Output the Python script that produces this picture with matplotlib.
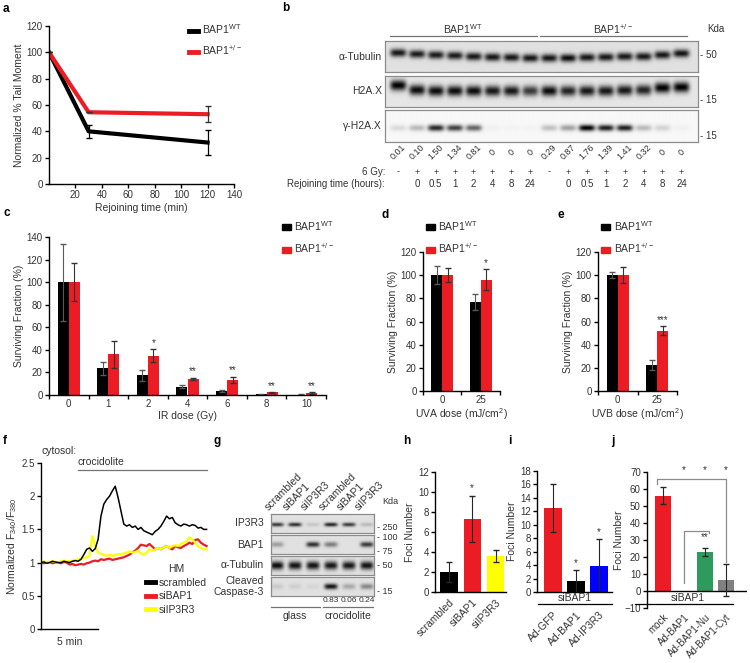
import numpy as np
import matplotlib
matplotlib.use('Agg')
import matplotlib.pyplot as plt
from matplotlib.lines import Line2D
from matplotlib.patches import Patch
from matplotlib.ticker import FormatStrFormatter

plt.rcParams['font.family'] = ['Liberation Sans', 'DejaVu Sans']
plt.rcParams['font.size'] = 7
plt.rcParams['mathtext.fontset'] = 'custom'
plt.rcParams['mathtext.rm'] = 'Liberation Sans'
plt.rcParams['mathtext.it'] = 'Liberation Sans:italic'
plt.rcParams['mathtext.default'] = 'regular'

RED = '#ec1c24'
YELLOW = '#ffff00'
BLUE = '#0000ff'
GREEN = '#2f9a5e'
GREY = '#808080'
TXT = '0.2'

WT_LABEL = 'BAP1$^{WT}$'
HET_LABEL = 'BAP1$^{+/-}$'

# ---- a: comet assay
rejoin_min = [0, 30, 120]
tail_wt = [100, 40, 31.5]
tail_wt_err = [0, 5, 9.5]
tail_het = [100, 54.5, 53]
tail_het_err = [0, 0, 6]

# ---- b: western blot (band darkness 0-1)
b_rows = ['α-Tubulin', 'H2A.X', 'γ-H2A.X']
b_kda = ['50', '15', '15']
tub_b = [0.9, 0.88, 0.88, 0.88, 0.9, 0.9, 0.9, 0.9, 0.9, 0.95, 0.9, 0.9, 0.9, 0.9, 0.9, 0.92]
tub_b_y = [0.38, 0.42, 0.45, 0.47, 0.5, 0.52, 0.53, 0.55, 0.55, 0.55, 0.53, 0.52, 0.5, 0.5, 0.45, 0.4]
h2ax_b = [1.0, 0.95, 0.95, 0.95, 0.95, 0.9, 0.9, 0.75, 0.95, 0.85, 0.9, 0.9, 0.9, 0.85, 1.0, 1.0]
h2ax_b_y = [0.3, 0.45, 0.48, 0.48, 0.48, 0.48, 0.48, 0.48, 0.48, 0.48, 0.48, 0.48, 0.46, 0.45, 0.38, 0.36]
gh2ax_b = [0.12, 0.25, 0.85, 0.75, 0.6, 0.03, 0.02, 0.02, 0.22, 0.35, 1.0, 0.88, 0.88, 0.25, 0.15, 0.03]
gh2ax_quant = ['0.01', '0.10', '1.50', '1.34', '0.81', '0', '0', '0',
               '0.29', '0.87', '1.76', '1.39', '1.41', '0.32', '0', '0']
gy_row = ['-', '+', '+', '+', '+', '+', '+', '+'] * 2
rejoin_hours = ['', '0', '0.5', '1', '2', '4', '8', '24'] * 2

# ---- c: IR survival
ir_dose = ['0', '1', '2', '4', '6', '8', '10']
ir_wt = [100, 23.5, 17.4, 7.4, 3.5, 0.6, 0.3]
ir_wt_err = [34, 5.4, 4.6, 1.5, 0.8, 0.2, 0.2]
ir_het = [100, 36, 35, 14.2, 13.6, 2.3, 1.8]
ir_het_err = [17, 12, 6, 1.2, 2.7, 0.5, 0.8]
ir_stars = ['', '', '*', '**', '**', '**', '**']

# ---- d: UVA survival
uva_dose = ['0', '25']
uva_wt = [100, 77]
uva_wt_err = [8, 7]
uva_het = [100, 96]
uva_het_err = [6, 9]
uva_stars = ['', '*']

# ---- e: UVB survival
uvb_dose = ['0', '25']
uvb_wt = [100, 22.5]
uvb_wt_err = [2.5, 4]
uvb_het = [100, 52]
uvb_het_err = [7, 4]
uvb_stars = ['', '***']

# ---- f: cytosolic Ca2+ traces, one sample every 0.25 min
trace_step = 0.25
ca_scrambled = [1.0, 1.01, 0.99, 1.0, 1.02, 1.01, 1.0, 1.0, 1.02, 1.01, 1.0, 1.02, 1.03, 1.02, 1.05,
                1.12, 1.2, 1.22, 1.17, 1.21, 1.35, 1.7, 1.88, 1.95, 2.0, 2.08, 2.15, 1.98, 1.78, 1.58,
                1.55, 1.57, 1.53, 1.55, 1.5, 1.53, 1.48, 1.46, 1.44, 1.42, 1.47, 1.5, 1.55, 1.62, 1.7,
                1.66, 1.68, 1.6, 1.57, 1.55, 1.58, 1.57, 1.55, 1.57, 1.56, 1.52, 1.53, 1.5, 1.5]
ca_sibap1 = [1.0, 0.99, 1.0, 1.01, 0.99, 1.0, 1.0, 0.99, 1.01, 1.0,
             0.97, 0.98, 0.96, 0.97, 0.98, 0.97, 0.99, 1.0,
             1.02, 1.03, 1.02, 1.05, 1.04, 1.05, 1.06, 1.04, 1.05, 1.06,
             1.07, 1.08, 1.1, 1.12, 1.15, 1.18, 1.22, 1.27,
             1.26, 1.25, 1.28, 1.24, 1.2, 1.22, 1.2, 1.23, 1.25, 1.22, 1.2, 1.25, 1.23, 1.22,
             1.25, 1.27, 1.3, 1.28, 1.34, 1.35, 1.3, 1.27, 1.25]
ca_siip3r3 = [1.0, 1.02, 1.0, 1.01, 1.02, 1.01, 1.0, 1.02, 1.03, 1.02, 1.02, 1.03, 1.04, 1.05, 1.05,
              1.07, 1.08, 1.1, 1.4, 1.25, 1.15,
              1.13, 1.12, 1.1, 1.12, 1.1, 1.11, 1.13, 1.12,
              1.14, 1.15, 1.17, 1.15, 1.16, 1.18, 1.14, 1.12,
              1.15, 1.2, 1.18, 1.2, 1.22, 1.2, 1.23, 1.25, 1.22, 1.25, 1.26, 1.25, 1.28, 1.3,
              1.32, 1.38, 1.35, 1.3, 1.25, 1.22, 1.2, 1.2]
crocidolite_start = 3.2

# ---- g: western blot
g_lanes = ['scrambled', 'siBAP1', 'siIP3R3', 'scrambled', 'siBAP1', 'siIP3R3']
g_rows = ['IP3R3', 'BAP1', 'α-Tubulin', 'Cleaved\nCaspase-3']
ip3r3_g = [0.75, 0.8, 0.12, 0.85, 0.75, 0.18]
bap1_g = [0.3, 0.0, 0.8, 0.45, 0.0, 0.75]
tub_g = [0.95, 0.92, 0.92, 0.9, 0.9, 0.92]
casp_g = [0.1, 0.08, 0.05, 0.92, 0.25, 0.4]
casp_quant = ['', '', '', '0.83', '0.06', '0.24']

# ---- h, i, j: foci counts
h_cats = ['scrambled', 'siBAP1', 'siIP3R3']
h_vals = [2.0, 7.3, 3.6]
h_err = [1.0, 2.3, 0.6]
h_stars = ['', '*', '']

i_cats = ['Ad-GFP', 'Ad-BAP1', 'Ad-IP3R3']
i_vals = [12.5, 1.6, 3.9]
i_err = [3.6, 1.6, 4.0]
i_stars = ['', '*', '*']

j_cats = ['mock', 'Ad-BAP1', 'Ad-BAP1-Nu', 'Ad-BAP1-Cyt']
j_vals = [56, 0, 23, 6.5]
j_err = [5, 0, 2.5, 9.3]

W, H = 750, 663
fig = plt.figure(figsize=(W / 100, H / 100), dpi=100)


def add_ax(x0, y0, x1, y1):
    return fig.add_axes([x0 / W, 1 - y1 / H, (x1 - x0) / W, (y1 - y0) / H])


def ftext(x, y, s, **kw):
    kw.setdefault('color', TXT)
    fig.text(x / W, 1 - y / H, s, **kw)


def fline(x0, x1, y0, y1=None, **kw):
    y1 = y0 if y1 is None else y1
    kw.setdefault('color', '0.45')
    kw.setdefault('lw', 0.9)
    fig.add_artist(Line2D([x0 / W, x1 / W], [1 - y0 / H, 1 - y1 / H], **kw))


def panel(x, y, s):
    fig.text(x / W, 1 - y / H, s, fontsize=8.5, fontweight='bold', va='center', ha='left')


def style(ax):
    for s in ['top', 'right']:
        ax.spines[s].set_visible(False)
    for s in ['left', 'bottom']:
        ax.spines[s].set_linewidth(1.0)
    ax.tick_params(direction='out', length=3, width=1, labelsize=7, labelcolor=TXT, pad=1.5)


def fig_legend(ax, handles, labels, x, y, spacing):
    ax.legend(handles, labels, loc='upper left', bbox_to_anchor=(x / W, 1 - y / H),
              bbox_transform=fig.transFigure, frameon=False, handlelength=0.9,
              handleheight=0.45, handletextpad=0.3, labelspacing=spacing,
              borderaxespad=0, borderpad=0, fontsize=7.5, labelcolor=TXT)


def blot(ax, levels, ycen, sx, sy, xlim, bg):
    xs = np.linspace(xlim[0], xlim[1], 600)
    ys = np.linspace(0, 1, 160)
    X, Y = np.meshgrid(xs, ys)
    dark = np.zeros_like(X)
    ycen = np.broadcast_to(ycen, (len(levels),))
    for i, (lv, yc) in enumerate(zip(levels, ycen)):
        dark += lv * np.exp(-np.abs((X - i) / sx) ** 4 - ((Y - yc) / sy) ** 2)
    ax.imshow(bg * (1 - np.clip(dark, 0, 1)), cmap='gray', vmin=0, vmax=1,
              extent=(xlim[0], xlim[1], 1, 0), aspect='auto', interpolation='bilinear')
    ax.set_xlim(*xlim)
    ax.set_ylim(1, 0)
    ax.set_xticks([])
    ax.set_yticks([])
    for s in ax.spines.values():
        s.set_color('0.55')
        s.set_linewidth(0.9)


def grouped_bars(ax, wt, wt_err, het, het_err, stars, width=0.28):
    x = np.arange(len(wt))
    ax.bar(x - width / 2, wt, width, color='black')
    ax.bar(x + width / 2, het, width, color=RED)
    ax.errorbar(x - width / 2, wt, yerr=wt_err, fmt='none', ecolor='0.35', elinewidth=0.8, capsize=2)
    ax.errorbar(x + width / 2, het, yerr=het_err, fmt='none', ecolor='0.2', elinewidth=0.8, capsize=2)
    for xi, v, e, s in zip(x, het, het_err, stars):
        if s:
            ax.text(xi + width / 2, v + e + 1, s, ha='center', va='bottom', fontsize=7, color=TXT)
    ax.set_xlim(-0.5, len(wt) - 0.5)
    ax.set_xticks(x)
    ax.set_xticks(np.arange(len(wt) + 1) - 0.5, minor=True)
    ax.tick_params(axis='x', which='major', length=0, pad=3)
    ax.tick_params(axis='x', which='minor', length=3, width=1, direction='out')


bar_handles = [Patch(color='black'), Patch(color=RED)]

# ---------------- a
panel(3, 9, 'a')
ax = add_ax(49, 26, 234, 184)
style(ax)
ax.plot(rejoin_min, tail_wt, color='black', lw=3)
ax.plot(rejoin_min, tail_het, color=RED, lw=3)
ax.errorbar(rejoin_min, tail_wt, yerr=tail_wt_err, fmt='none', ecolor='black', elinewidth=0.9, capsize=2)
ax.errorbar(rejoin_min, tail_het, yerr=tail_het_err, fmt='none', ecolor='0.2', elinewidth=0.9, capsize=2)
ax.set_xlim(0, 140)
ax.set_ylim(0, 120)
ax.set_xticks(range(20, 141, 20))
ax.set_yticks(range(0, 121, 20))
ax.set_xlabel('Rejoining time (min)', fontsize=7.5, color=TXT, labelpad=2)
ax.set_ylabel('Normalized % Tail Moment', fontsize=7.5, color=TXT, labelpad=2)
fig_legend(ax, [Line2D([], [], color='black', lw=3.5), Line2D([], [], color=RED, lw=3.5)],
           [WT_LABEL, HET_LABEL], 189, 22, 0.75)

# ---------------- b
panel(282, 8, 'b')
b_xlim = (-0.69, 15.87)
b_lane_x = 398
b_lane_dx = 18.9
b_boxes = [(41, 72), (76, 107), (110, 142)]
b_data = [(tub_b, tub_b_y, 0.13, 0.88), (h2ax_b, h2ax_b_y, 0.17, 0.9), (gh2ax_b, 0.56, 0.1, 0.97)]
for (y0, y1), (lv, yc, sy, bg), name in zip(b_boxes, b_data, b_rows):
    bax = add_ax(385, y0, 698, y1)
    blot(bax, lv, yc, 0.43, sy, b_xlim, bg)
    ftext(382, (y0 + y1) / 2, name, ha='right', va='center', fontsize=7.5)
for kda, yk in zip(b_kda, [55, 100, 136]):
    ftext(700, yk, '- ' + kda, ha='left', va='center')
ftext(707, 29, 'Kda', ha='left', va='center')
ftext(463, 29, WT_LABEL, ha='center', va='center', fontsize=7.5)
ftext(613, 29, HET_LABEL, ha='center', va='center', fontsize=7.5)
fline(390, 537, 36)
fline(540, 687, 36)
for i, (q, g6, rh) in enumerate(zip(gh2ax_quant, gy_row, rejoin_hours)):
    xl = b_lane_x + i * b_lane_dx
    ftext(xl, 152, q, ha='center', va='center', rotation=45, fontsize=6.5)
    ftext(xl, 172, g6, ha='center', va='center', fontsize=6.5)
    ftext(xl, 184, rh, ha='center', va='center', fontsize=7)
ftext(385, 172, '6 Gy:', ha='right', va='center', fontsize=7)
ftext(385, 184, 'Rejoining time (hours):', ha='right', va='center', fontsize=7)

# ---------------- c
panel(3, 213, 'c')
ax = add_ax(49, 237, 326, 395)
style(ax)
grouped_bars(ax, ir_wt, ir_wt_err, ir_het, ir_het_err, ir_stars)
ax.set_xticklabels(ir_dose)
ax.set_ylim(0, 140)
ax.set_yticks(range(0, 141, 20))
ax.set_xlabel('IR dose (Gy)', fontsize=7.5, color=TXT, labelpad=1)
ax.set_ylabel('Surviving Fraction (%)', fontsize=7.5, color=TXT, labelpad=2)
fig_legend(ax, bar_handles, [WT_LABEL, HET_LABEL], 282, 219, 0.85)

# ---------------- d
panel(381, 215, 'd')
ax = add_ax(423, 252, 500, 391)
style(ax)
grouped_bars(ax, uva_wt, uva_wt_err, uva_het, uva_het_err, uva_stars)
ax.set_xticklabels(uva_dose)
ax.set_ylim(0, 120)
ax.set_yticks(range(0, 121, 20))
ax.set_xlabel('UVA dose (mJ/cm$^{2}$)', fontsize=7.5, color=TXT, labelpad=1)
ax.set_ylabel('Surviving Fraction (%)', fontsize=7.5, color=TXT, labelpad=2)
fig_legend(ax, bar_handles, [WT_LABEL, HET_LABEL], 426, 219, 0.85)

# ---------------- e
panel(557, 215, 'e')
ax = add_ax(598, 252, 677, 391)
style(ax)
grouped_bars(ax, uvb_wt, uvb_wt_err, uvb_het, uvb_het_err, uvb_stars)
ax.set_xticklabels(uvb_dose)
ax.set_ylim(0, 120)
ax.set_yticks(range(0, 121, 20))
ax.set_xlabel('UVB dose (mJ/cm$^{2}$)', fontsize=7.5, color=TXT, labelpad=1)
ax.set_ylabel('Surviving Fraction (%)', fontsize=7.5, color=TXT, labelpad=2)
fig_legend(ax, bar_handles, [WT_LABEL, HET_LABEL], 601, 219, 0.85)

# ---------------- f
panel(3, 441, 'f')
ftext(41, 451, 'cytosol:', ha='left', va='center', fontsize=7.5)
ax = add_ax(41, 463, 210, 629)
style(ax)
t = np.arange(len(ca_scrambled)) * trace_step
ax.plot(t, ca_sibap1, color=RED, lw=1.6)
ax.plot(t, ca_siip3r3, color=YELLOW, lw=1.6)
ax.plot(t, ca_scrambled, color='black', lw=1.1)
ax.set_xlim(0, 14.8)
ax.set_ylim(0, 2.5)
ax.set_yticks([0, 0.5, 1, 1.5, 2, 2.5])
ax.yaxis.set_major_formatter(FormatStrFormatter('%g'))
ax.set_xticks([])
ax.spines['bottom'].set_bounds(0, 5)
ax.text(2.5, -0.12, '5 min', ha='center', va='top', fontsize=7.5, color=TXT)
ax.plot([crocidolite_start, t[-1]], [2.39, 2.39], color='0.45', lw=0.9)
ax.text(crocidolite_start, 2.44, 'crocidolite', ha='left', va='bottom', fontsize=7.5, color=TXT)
ax.set_ylabel('Normalized F$_{340}$/F$_{380}$', fontsize=7.5, color=TXT, labelpad=2)
leg = ax.legend([Line2D([], [], color=c, lw=3.5) for c in ['black', RED, YELLOW]],
                ['scrambled', 'siBAP1', 'siIP3R3'], title='HM', loc='upper left',
                bbox_to_anchor=(146 / W, 1 - 564 / H), bbox_transform=fig.transFigure,
                frameon=False, handlelength=0.9, handletextpad=0.3, labelspacing=0.35,
                borderaxespad=0, borderpad=0, fontsize=7.5, labelcolor=TXT, title_fontsize=7.5)
leg.get_title().set_color(TXT)

# ---------------- g
panel(214, 441, 'g')
g_xlim = (-0.33, 5.39)
g_lane_x = 277
g_lane_dx = 18
g_boxes = [(514, 533), (535, 554), (556, 575), (577, 596)]
g_data = [(ip3r3_g, 0.58, 0.1), (bap1_g, 0.5, 0.14), (tub_g, 0.5, 0.22), (casp_g, 0.5, 0.15)]
for (y0, y1), (lv, yc, sy), name in zip(g_boxes, g_data, g_rows):
    gax = add_ax(271, y0, 374, y1)
    blot(gax, lv, yc, 0.37, sy, g_xlim, 0.88)
    ftext(264, (y0 + y1) / 2, name, ha='right', va='center', fontsize=7.5, linespacing=1.05)
for s, yk in zip(['- 250', '- 100', '- 75', '- 50', '- 15'], [528, 537, 552, 566, 591]):
    ftext(377, yk, s, ha='left', va='center', fontsize=6.5)
ftext(382, 502, 'Kda', ha='left', va='center', fontsize=6.5)
for i, (name, q) in enumerate(zip(g_lanes, casp_quant)):
    xl = g_lane_x + i * g_lane_dx
    ftext(xl - 7, 512, name, ha='left', va='bottom', rotation=45, rotation_mode='anchor', fontsize=7.5)
    ftext(xl, 601, q, ha='center', va='center', fontsize=6)
fline(271, 320, 607)
fline(323, 373, 607)
ftext(295, 616, 'glass', ha='center', va='center', fontsize=7.5)
ftext(348, 616, 'crocidolite', ha='center', va='center', fontsize=7.5)


# ---------------- h, i, j
def foci_bars(ax, vals, err, colors, stars, width, xlim):
    x = np.arange(len(vals))
    ax.bar(x, vals, width, color=colors)
    ax.errorbar(x, vals, yerr=err, fmt='none', ecolor='0.15', elinewidth=0.8, capsize=2)
    for xi, v, e, s in zip(x, vals, err, stars):
        if s:
            ax.text(xi, v + e + 0.3, s, ha='center', va='bottom', fontsize=7, color=TXT)
    ax.set_xlim(*xlim)
    ax.set_xticks(x)


panel(403, 441, 'h')
ax = add_ax(435, 472, 506, 592)
style(ax)
foci_bars(ax, h_vals, h_err, ['black', RED, YELLOW], h_stars, 0.75, (-0.6, 2.45))
ax.set_ylim(0, 12)
ax.set_yticks(range(0, 13, 2))
ax.set_xticklabels(h_cats, rotation=45, ha='right', rotation_mode='anchor')
ax.tick_params(axis='x', length=0, pad=4, labelsize=7.5)
ax.set_ylabel('Foci Number', fontsize=7.5, color=TXT, labelpad=2)

panel(508, 441, 'i')
ax = add_ax(537, 471, 612, 592)
style(ax)
foci_bars(ax, i_vals, i_err, [RED, 'black', BLUE], i_stars, 0.75, (-0.7, 2.56))
ax.set_ylim(0, 18)
ax.set_yticks(range(0, 19, 2))
ax.set_xticklabels(i_cats, rotation=45, ha='right', rotation_mode='anchor')
ax.tick_params(axis='x', length=0, pad=13, labelsize=7.5)
ax.set_ylabel('Foci Number', fontsize=7.5, color=TXT, labelpad=2)
fline(538, 612, 604, color='black')
ftext(575, 598, 'siBAP1', ha='center', va='center', fontsize=7.5)

panel(611, 441, 'j')
ax = add_ax(647, 472, 747, 608)
style(ax)
ax.spines['bottom'].set_visible(False)
ax.axhline(0, color='black', lw=1)
ax.bar(np.arange(len(j_vals)), j_vals, 0.8, color=[RED, 'white', GREEN, GREY])
ax.errorbar([0, 2, 3], [j_vals[0], j_vals[2], j_vals[3]], yerr=[j_err[0], j_err[2], j_err[3]],
            fmt='none', ecolor='0.15', elinewidth=0.8, capsize=2)
ax.set_xlim(-0.76, 4.0)
ax.set_ylim(-10, 70)
ax.set_yticks(range(-10, 71, 10))
ax.set_xticks(range(len(j_cats)))
ax.set_xticklabels(j_cats, rotation=45, ha='right', rotation_mode='anchor')
ax.tick_params(axis='x', length=0, pad=3, labelsize=7)
ax.set_ylabel('Foci Number', fontsize=7.5, color=TXT, labelpad=0)
br = dict(color='0.55', lw=0.9, clip_on=False)
ax.plot([-0.3, -0.3, 3, 3], [63, 66, 66, 17], **br)
ax.plot([1, 1, 2.2, 2.2], [5, 35.5, 35.5, 34], **br)
for xs in [1, 2, 3]:
    ax.text(xs, 68, '*', ha='center', va='bottom', fontsize=7, color=TXT)
ax.text(2, 28.5, '**', ha='center', va='bottom', fontsize=7, color=TXT)
fline(635, 733, 604, color='black')
ftext(688, 598, 'siBAP1', ha='center', va='center', fontsize=7.5)

fig.savefig('out.png', dpi=100)
